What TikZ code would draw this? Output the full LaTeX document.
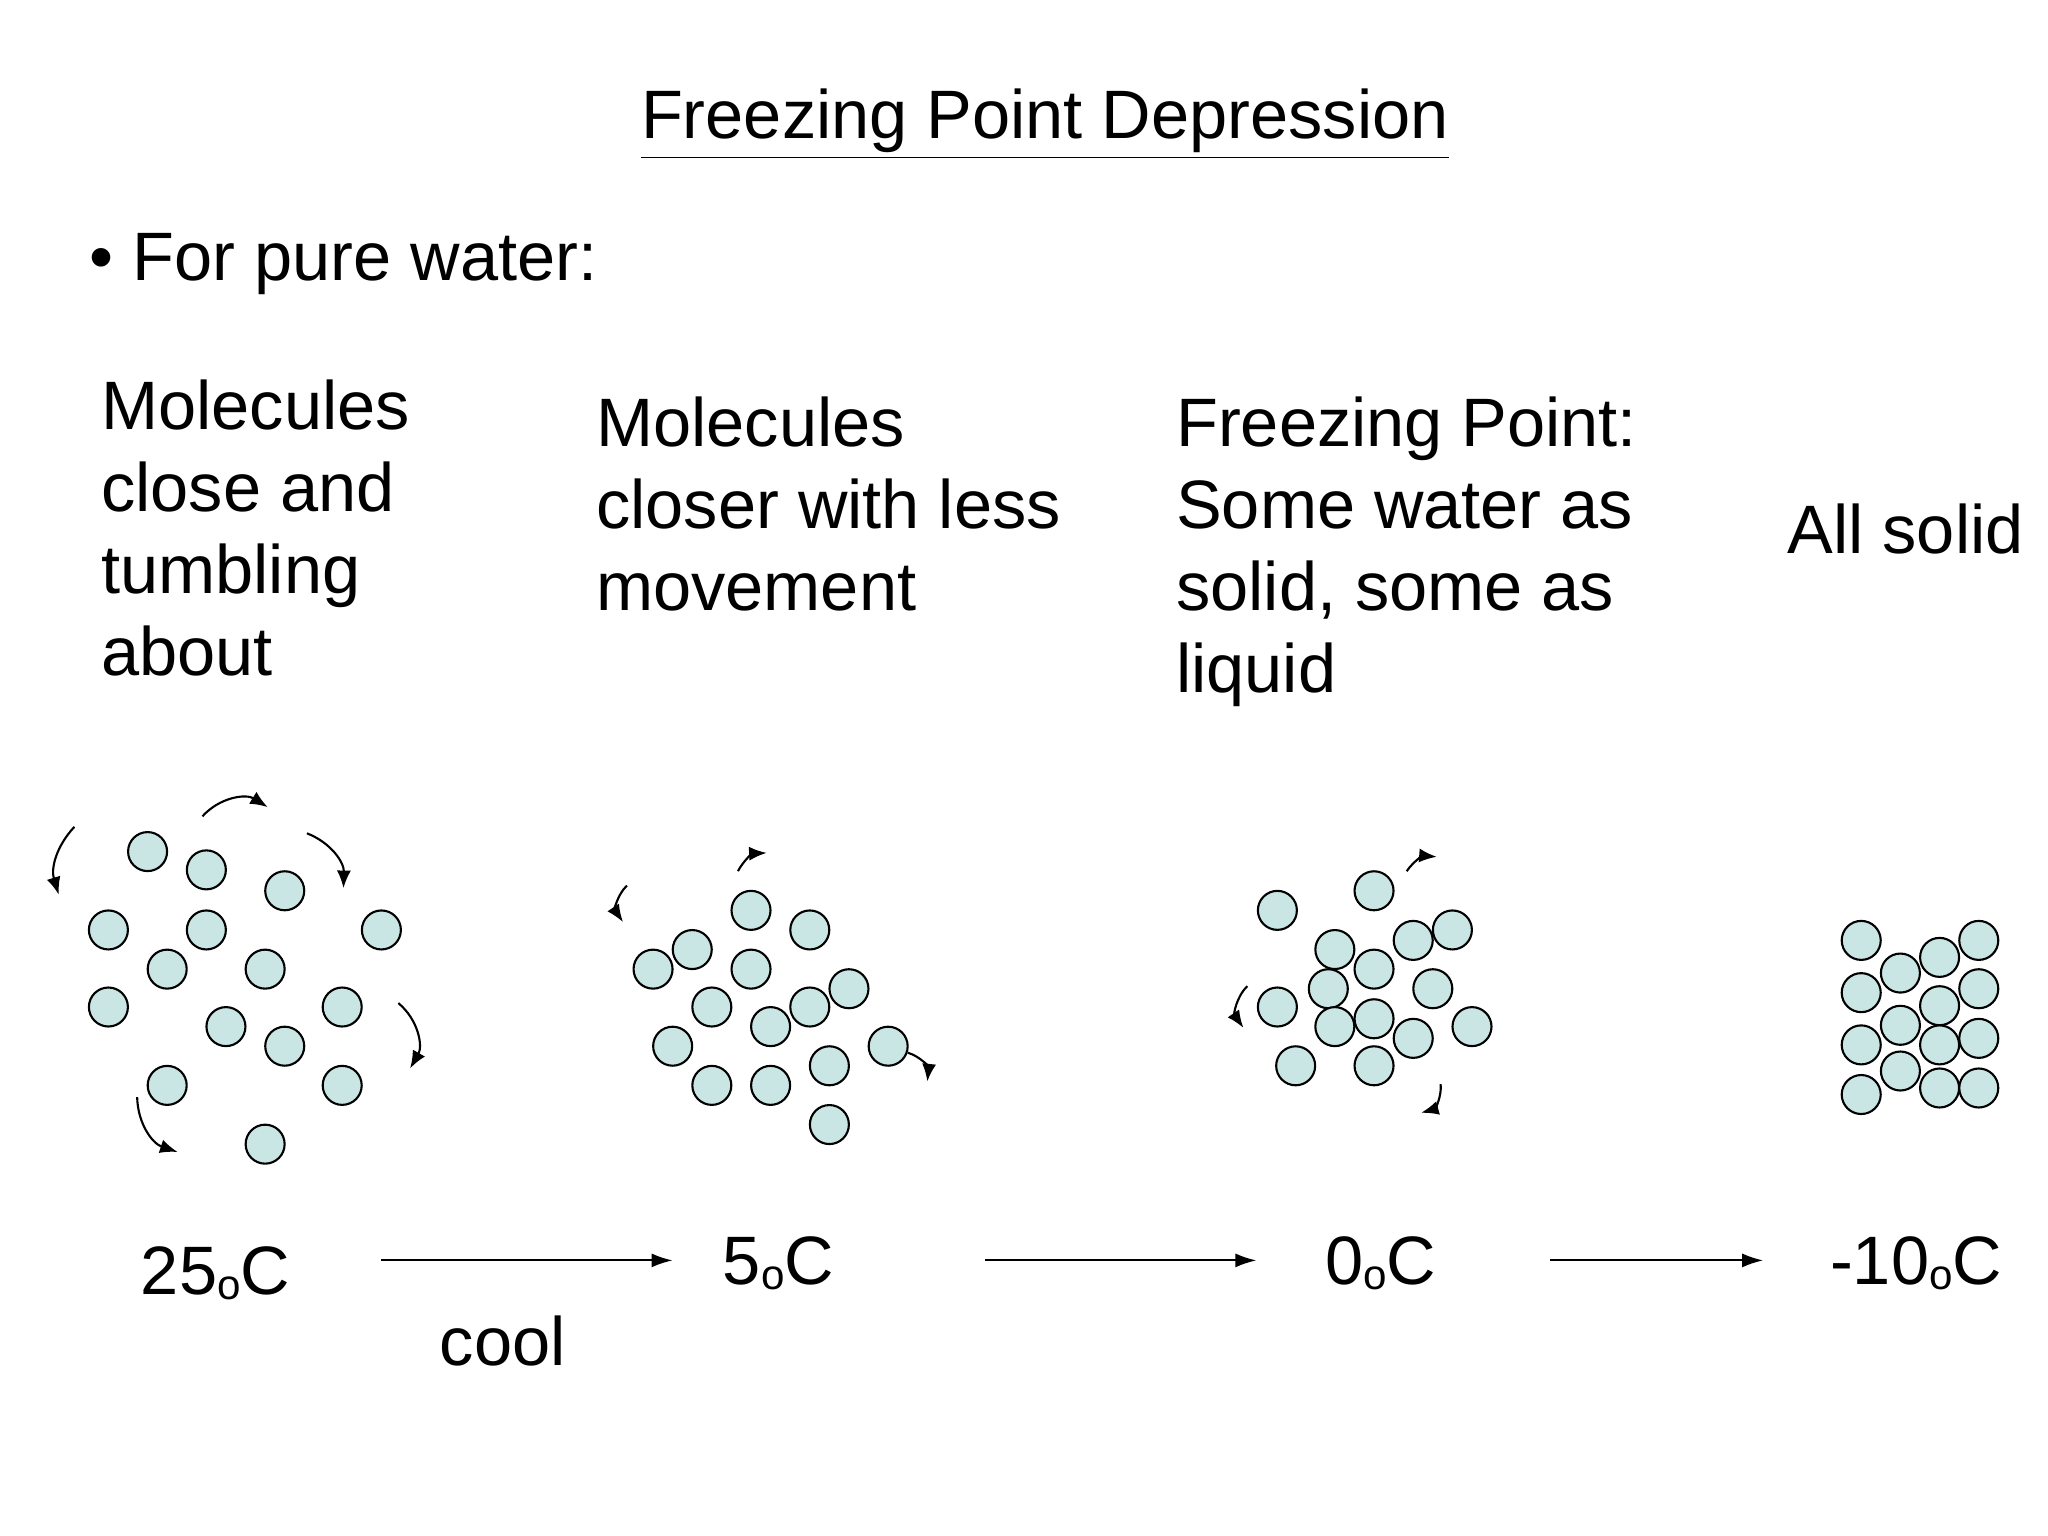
\documentclass[tikz,border=0pt]{standalone}
\usepackage{fontspec}
\setmainfont{Liberation Sans}
\usetikzlibrary{arrows.meta}
\definecolor{mol}{RGB}{202,230,228}
\newcommand{\degc}{\raisebox{-0.15ex}{\fontsize{12}{12}\selectfont o}C}
\begin{document}
\begin{tikzpicture}[x=0.01306cm,y=-0.01306cm,
  molc/.style={circle,draw=black,fill=mol,line width=0.6pt,minimum size=0.39cm,inner sep=0pt},
  txt/.style={font=\fontsize{19.5}{23.4}\selectfont,align=left,inner sep=0pt},
  mv/.style={-{Latex[length=5pt,width=4pt]},line width=0.6pt},
  ar/.style={-{Latex[length=6pt,width=4pt]},line width=0.6pt}]
\useasboundingbox (0,0) rectangle (1568,1176);
\node[txt] (title) at (800,95) {\underline{Freezing Point Depression}};
\node[txt,anchor=base west] (bul) at (68,215) {• For pure water:};
\node[txt,anchor=north west] (c1) at (77,290) {Molecules\\close and\\tumbling\\about};
\node[txt,anchor=north west] (c2) at (456,303) {Molecules\\closer with less\\movement};
\node[txt,anchor=north west] (c3) at (900,303) {Freezing Point:\\Some water as\\solid, some as\\liquid};
\node[txt] (c4) at (1459,405) {All solid};
\foreach \p [count=\i] in {(113,652),(158,666),(218,682),(83,712),(158,712),(292,712),(128,742),(203,742),(83,771),(173,786),(218,801),(262,771),(128,831),(262,831),(203,876)} \node[molc] (a\i) at \p {};
\foreach \p [count=\i] in {(575,697),(620,712),(530,727),(500,742),(575,742),(545,771),(620,771),(650,757),(590,786),(515,801),(635,816),(680,801),(545,831),(590,831),(635,861)} \node[molc] (b\i) at \p {};
\foreach \p [count=\i] in {(978,697),(1052,682),(1022,727),(1082,720),(1112,712),(1052,742),(1017,757),(1097,757),(978,771),(1022,786),(1052,780),(1082,795),(1127,786),(992,816),(1052,816)} \node[molc] (c\i) at \p {};
\foreach \p [count=\i] in {(1425,720),(1515,720),(1455,745),(1485,733),(1425,760),(1515,757),(1485,770),(1455,785),(1425,800),(1485,800),(1515,795),(1455,820),(1425,838),(1485,833),(1515,833)} \node[molc] (d\i) at \p {};
\draw[mv] (57,633) to[bend right=30] (45,685);
\draw[mv] (155,625) to[bend left=40] (205,618);
\draw[mv] (235,638) to[bend left=35] (263,680);
\draw[mv] (305,768) to[bend left=40] (314,818);
\draw[mv] (105,840) to[bend right=35] (136,882);
\draw[mv] (565,667) to[bend left=30] (587,653);
\draw[mv] (480,678) to[bend right=40] (477,706);
\draw[mv] (695,806) to[bend left=40] (710,828);
\draw[mv] (1077,667) to[bend left=30] (1100,656);
\draw[mv] (955,755) to[bend right=40] (952,787);
\draw[mv] (1103,830) to[bend left=40] (1088,852);
\node[txt] (t1) at (165,975) {25\degc};
\node[txt] (t2) at (596,967) {5\degc};
\node[txt] (t3) at (1057,967) {0\degc};
\node[txt] (t4) at (1467,967) {-10\degc};
\node[txt] (cool) at (385,1027) {cool};
\coordinate (p1) at (292,965); \coordinate (q1) at (515,965);
\coordinate (p2) at (754,965); \coordinate (q2) at (962,965);
\coordinate (p3) at (1187,965); \coordinate (q3) at (1350,965);
\draw[ar] (p1) -- (q1);
\draw[ar] (p2) -- (q2);
\draw[ar] (p3) -- (q3);
\end{tikzpicture}
\end{document}
